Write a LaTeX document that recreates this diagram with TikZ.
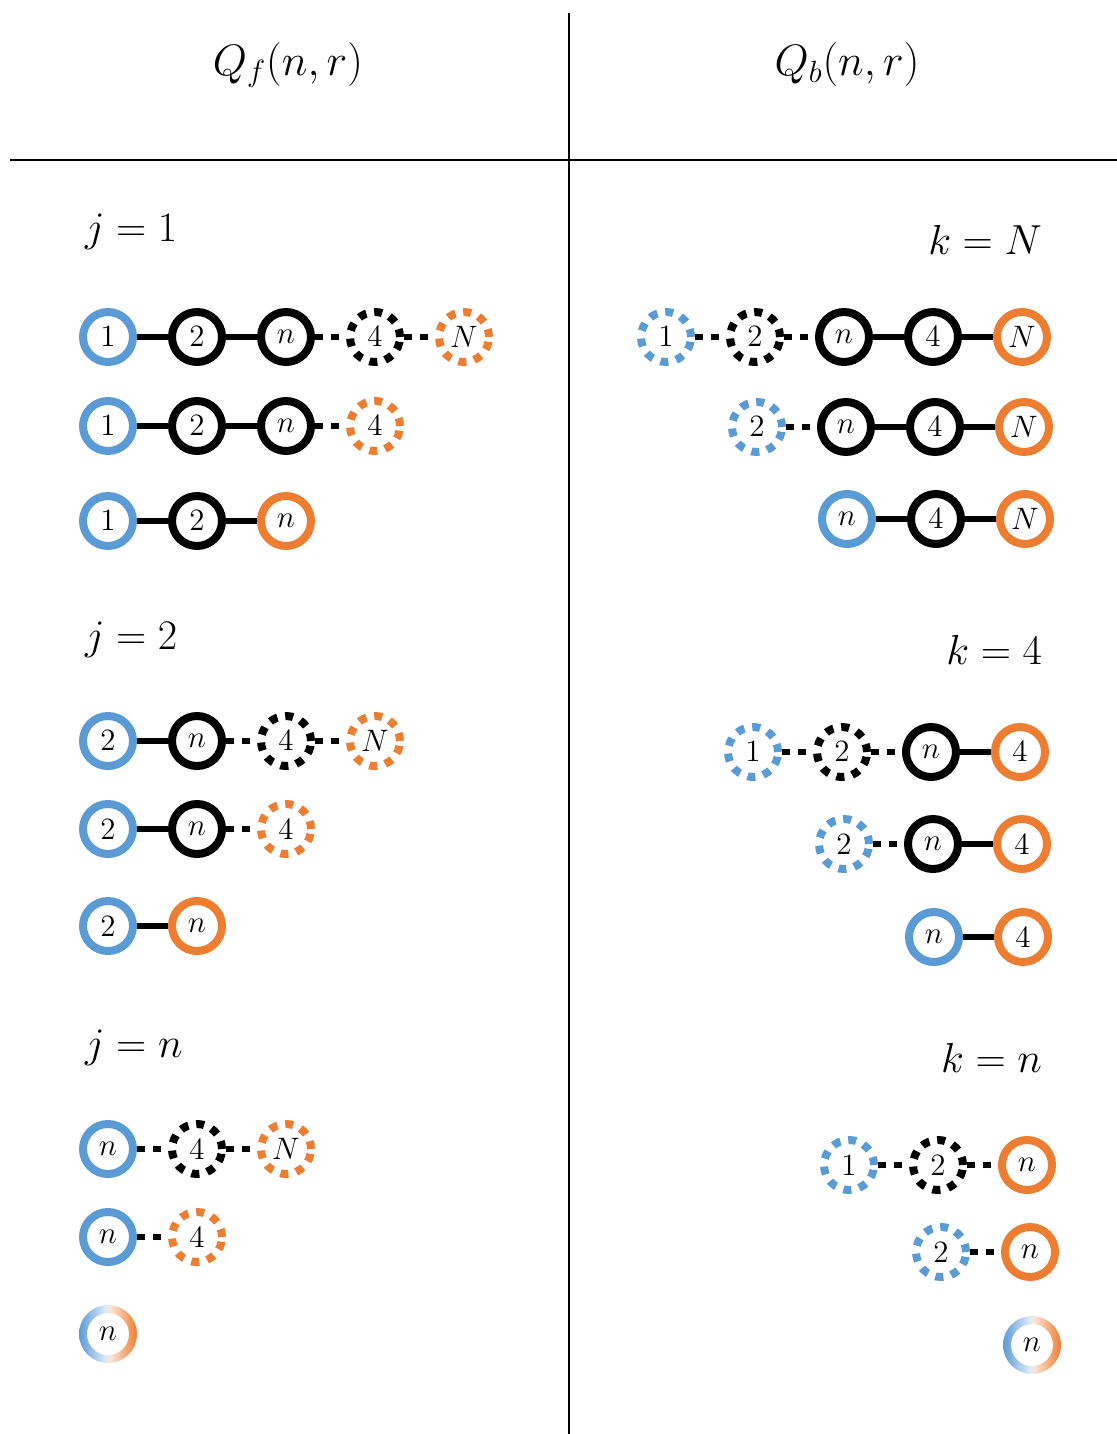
\RequirePackage{fix-cm}
\documentclass[tikz,border=0pt]{standalone}
\usepackage{xcolor}
\usetikzlibrary{positioning}
\definecolor{cblue}{HTML}{5B9BD5}
\definecolor{corange}{HTML}{ED7D31}
\pgfdeclarehorizontalshading{ringfade}{100bp}{color(0bp)=(cblue); color(25bp)=(cblue);
  color(48bp)=(cblue!20); color(52bp)=(corange!20); color(75bp)=(corange); color(100bp)=(corange)}

\begin{document}
\begin{tikzpicture}[x=0.5pt,y=-0.5pt,node distance=15.5pt,
  vtx/.style={circle,draw,line width=4pt,minimum size=25pt,inner sep=0pt,font=\fontsize{15.5}{15.5}\selectfont},
  dvtx/.style={vtx,dash pattern=on 4pt off 4pt},
  link/.style={line width=3.2pt},
  dlink/.style={line width=3.2pt,dash pattern=on 4pt off 4pt},
  lab/.style={font=\fontsize{21}{21}\selectfont},
  head/.style={font=\fontsize{22}{22}\selectfont},
  sep/.style={line width=1pt}]
\useasboundingbox (0,0) rectangle (1117,1434);
\draw[sep] (10,160) -- (1117,160);
\draw[sep] (569,13) -- (569,1434);
\node[head] (hf) at (288,65) {$Q_f(n,r)$};
\node[head] (hb) at (847,65) {$Q_b(n,r)$};
% forward, j=1
\node[lab,anchor=west] (j1) at (78,232) {$j=1$};
\node[vtx,draw=cblue] (f11) at (108,337) {$1$};
\node[vtx,right=of f11] (f12) {$2$};
\node[vtx,right=of f12] (f13) {$n$};
\node[dvtx,right=of f13] (f14) {$4$};
\node[dvtx,draw=corange,right=of f14] (f15) {$N$};
\draw[link] (f11) -- (f12) -- (f13);
\draw[dlink] (f13) -- (f14) -- (f15);
\node[vtx,draw=cblue] (f21) at (108,426) {$1$};
\node[vtx,right=of f21] (f22) {$2$};
\node[vtx,right=of f22] (f23) {$n$};
\node[dvtx,draw=corange,right=of f23] (f24) {$4$};
\draw[link] (f21) -- (f22) -- (f23);
\draw[dlink] (f23) -- (f24);
\node[vtx,draw=cblue] (f31) at (108,521) {$1$};
\node[vtx,right=of f31] (f32) {$2$};
\node[vtx,draw=corange,right=of f32] (f33) {$n$};
\draw[link] (f31) -- (f32) -- (f33);
% forward, j=2
\node[lab,anchor=west] (j2) at (78,640) {$j=2$};
\node[vtx,draw=cblue] (f41) at (108,741) {$2$};
\node[vtx,right=of f41] (f42) {$n$};
\node[dvtx,right=of f42] (f43) {$4$};
\node[dvtx,draw=corange,right=of f43] (f44) {$N$};
\draw[link] (f41) -- (f42);
\draw[dlink] (f42) -- (f43) -- (f44);
\node[vtx,draw=cblue] (f51) at (108,829) {$2$};
\node[vtx,right=of f51] (f52) {$n$};
\node[dvtx,draw=corange,right=of f52] (f53) {$4$};
\draw[link] (f51) -- (f52);
\draw[dlink] (f52) -- (f53);
\node[vtx,draw=cblue] (f61) at (108,926) {$2$};
\node[vtx,draw=corange,right=of f61] (f62) {$n$};
\draw[link] (f61) -- (f62);
% forward, j=n
\node[lab,anchor=west] (j3) at (78,1048) {$j=n$};
\node[vtx,draw=cblue] (f71) at (108,1149) {$n$};
\node[dvtx,right=of f71] (f72) {$4$};
\node[dvtx,draw=corange,right=of f72] (f73) {$N$};
\draw[dlink] (f71) -- (f72) -- (f73);
\node[vtx,draw=cblue] (f81) at (108,1237) {$n$};
\node[dvtx,draw=corange,right=of f81] (f82) {$4$};
\draw[dlink] (f81) -- (f82);
\node[vtx,draw=none] (f91) at (108,1334) {$n$};
\shade[shading=ringfade,even odd rule]
  (f91.center) circle[radius=14.5pt] (f91.center) circle[radius=10.5pt];
% backward, k=N
\node[lab,anchor=east] (k1) at (1049,240) {$k=N$};
\node[dvtx,draw=cblue] (b11) at (666,337) {$1$};
\node[dvtx,right=of b11] (b12) {$2$};
\node[vtx,right=of b12] (b13) {$n$};
\node[vtx,right=of b13] (b14) {$4$};
\node[vtx,draw=corange,right=of b14] (b15) {$N$};
\draw[dlink] (b11) -- (b12) -- (b13);
\draw[link] (b13) -- (b14) -- (b15);
\node[dvtx,draw=cblue] (b21) at (757,427) {$2$};
\node[vtx,right=of b21] (b22) {$n$};
\node[vtx,right=of b22] (b23) {$4$};
\node[vtx,draw=corange,right=of b23] (b24) {$N$};
\draw[dlink] (b21) -- (b22);
\draw[link] (b22) -- (b23) -- (b24);
\node[vtx,draw=cblue] (b31) at (847,519) {$n$};
\node[vtx,right=of b31] (b32) {$4$};
\node[vtx,draw=corange,right=of b32] (b33) {$N$};
\draw[link] (b31) -- (b32) -- (b33);
% backward, k=4
\node[lab,anchor=east] (k2) at (1049,650) {$k=4$};
\node[dvtx,draw=cblue] (b41) at (753,752) {$1$};
\node[dvtx,right=of b41] (b42) {$2$};
\node[vtx,right=of b42] (b43) {$n$};
\node[vtx,draw=corange,right=of b43] (b44) {$4$};
\draw[dlink] (b41) -- (b42) -- (b43);
\draw[link] (b43) -- (b44);
\node[dvtx,draw=cblue] (b51) at (844,844) {$2$};
\node[vtx,right=of b51] (b52) {$n$};
\node[vtx,draw=corange,right=of b52] (b53) {$4$};
\draw[dlink] (b51) -- (b52);
\draw[link] (b52) -- (b53);
\node[vtx,draw=cblue] (b61) at (934,937) {$n$};
\node[vtx,draw=corange,right=of b61] (b62) {$4$};
\draw[link] (b61) -- (b62);
% backward, k=n
\node[lab,anchor=east] (k3) at (1049,1058) {$k=n$};
\node[dvtx,draw=cblue] (b71) at (849,1165) {$1$};
\node[dvtx,right=of b71] (b72) {$2$};
\node[vtx,draw=corange,right=of b72] (b73) {$n$};
\draw[dlink] (b71) -- (b72) -- (b73);
\node[dvtx,draw=cblue] (b81) at (941,1252) {$2$};
\node[vtx,draw=corange,right=of b81] (b82) {$n$};
\draw[dlink] (b81) -- (b82);
\node[vtx,draw=none] (b91) at (1032,1345) {$n$};
\shade[shading=ringfade,even odd rule]
  (b91.center) circle[radius=14.5pt] (b91.center) circle[radius=10.5pt];
\end{tikzpicture}
\end{document}
